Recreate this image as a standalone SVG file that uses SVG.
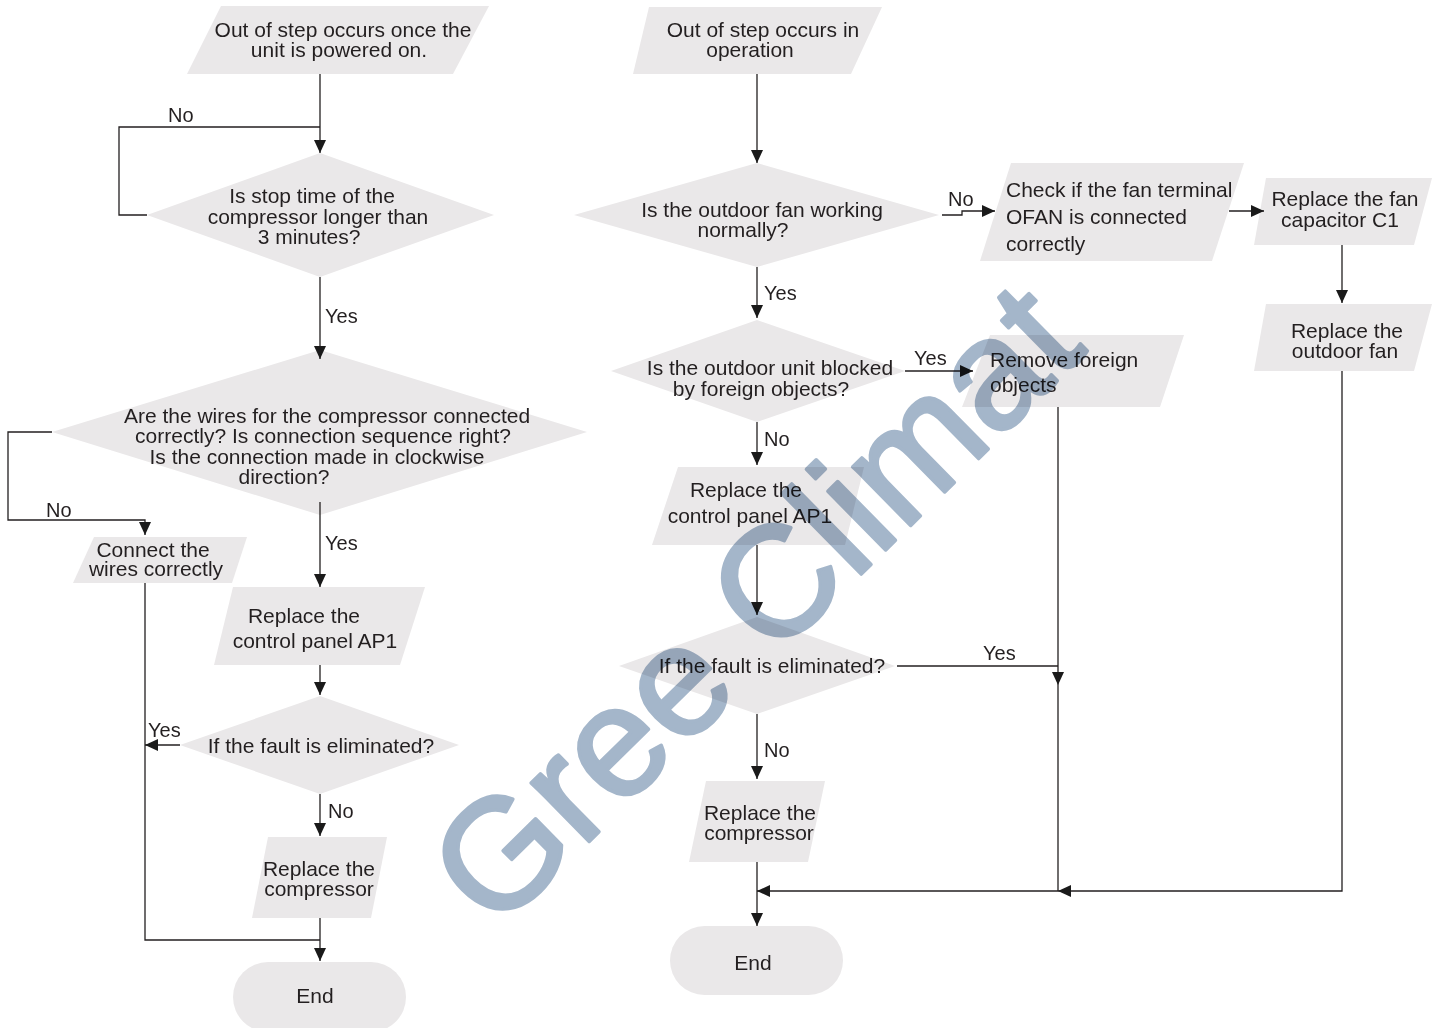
<svg xmlns="http://www.w3.org/2000/svg" width="1435" height="1028" viewBox="0 0 1435 1028">
<style>
  .shape { fill: #eae8e9; stroke: none; }
  .t { font-family: "Liberation Sans", Arial, sans-serif; font-size: 21px; fill: #231f20; }
  .c { text-anchor: middle; }
  .lbl { font-family: "Liberation Sans", Arial, sans-serif; font-size: 20px; fill: #231f20; }
  .ln { fill: none; stroke: #231f20; stroke-width: 1.3; }
  .arr { marker-end: url(#ah); }
  .wm { font-family: "Liberation Sans", Arial, sans-serif; font-size: 156px; fill: #a4b6ca; stroke: #a4b6ca; stroke-width: 3.5; stroke-linejoin: round; mix-blend-mode: multiply; }
</style>
<defs>
  <marker id="ah" viewBox="0 0 13 12" refX="13" refY="6" markerWidth="13" markerHeight="12" markerUnits="userSpaceOnUse" orient="auto">
    <path d="M0,0 L13,6 L0,12 z" fill="#1a1a1a"/>
  </marker>
</defs>
<rect width="1435" height="1028" fill="#ffffff"/>

<!-- Left column nodes -->
<g id="start-left">
  <polygon class="shape" points="221,6 489,6 453,74 187,74"/>
  <text class="t c" x="343" y="37">Out of step occurs once the</text>
  <text class="t c" x="339" y="57">unit is powered on.</text>
</g>
<g id="dec-stop-time">
  <polygon class="shape" points="320,153 494,215 320,277 147,215"/>
  <text class="t c" x="312" y="203">Is stop time of the</text>
  <text class="t c" x="318" y="224">compressor longer than</text>
  <text class="t c" x="309" y="244">3 minutes?</text>
</g>
<g id="dec-wires">
  <polygon class="shape" points="320,350 587,432 320,515 52,432"/>
  <text class="t c" x="327" y="423">Are the wires for the compressor connected</text>
  <text class="t c" x="323" y="443">correctly? Is connection sequence right?</text>
  <text class="t c" x="317" y="464">Is the connection made in clockwise</text>
  <text class="t c" x="284" y="484">direction?</text>
</g>
<g id="connect-wires">
  <polygon class="shape" points="94,537 247,537 232,583 73,583"/>
  <text class="t c" x="153" y="557">Connect the</text>
  <text class="t c" x="156" y="576">wires correctly</text>
</g>
<g id="replace-ap1-left">
  <polygon class="shape" points="233,587 425,587 400,665 214,665"/>
  <text class="t c" x="304" y="623">Replace the</text>
  <text class="t c" x="315" y="648">control panel AP1</text>
</g>
<g id="dec-fault-left">
  <polygon class="shape" points="320,696 459,745 320,794 180,745"/>
  <text class="t c" x="321" y="753">If the fault is eliminated?</text>
</g>
<g id="replace-comp-left">
  <polygon class="shape" points="268,837 387,837 371,918 252,918"/>
  <text class="t c" x="319" y="876">Replace the</text>
  <text class="t c" x="319" y="896">compressor</text>
</g>
<g id="end-left">
  <rect class="shape" x="233" y="962" width="173" height="70" rx="35"/>
  <text class="t c" x="315" y="1003">End</text>
</g>

<!-- Right column nodes -->
<g id="start-right">
  <polygon class="shape" points="649,7 882,7 851,74 633,74"/>
  <text class="t c" x="763" y="37">Out of step occurs in</text>
  <text class="t c" x="750" y="57">operation</text>
</g>
<g id="dec-fan">
  <polygon class="shape" points="757,163 939,215 757,267 574,215"/>
  <text class="t c" x="762" y="217">Is the outdoor fan working</text>
  <text class="t c" x="743" y="237">normally?</text>
</g>
<g id="check-ofan">
  <polygon class="shape" points="1011,163 1244,163 1212,261 980,261"/>
  <text class="t" x="1006" y="197">Check if the fan terminal</text>
  <text class="t" x="1006" y="224">OFAN is connected</text>
  <text class="t" x="1006" y="251">correctly</text>
</g>
<g id="replace-cap">
  <polygon class="shape" points="1266,178 1432,178 1414,245 1254,245"/>
  <text class="t c" x="1345" y="206">Replace the fan</text>
  <text class="t c" x="1340" y="227">capacitor C1</text>
</g>
<g id="replace-fan">
  <polygon class="shape" points="1266,304 1432,304 1414,371 1254,371"/>
  <text class="t c" x="1347" y="338">Replace the</text>
  <text class="t c" x="1345" y="358">outdoor fan</text>
</g>
<g id="dec-blocked">
  <polygon class="shape" points="757,320 905,371 757,422 611,371"/>
  <text class="t c" x="770" y="375">Is the outdoor unit blocked</text>
  <text class="t c" x="761" y="396">by foreign objects?</text>
</g>
<g id="remove-objects">
  <polygon class="shape" points="990,335 1184,335 1160,407 962,407"/>
  <text class="t" x="990" y="367">Remove foreign</text>
  <text class="t" x="990" y="392">objects</text>
</g>
<g id="replace-ap1-right">
  <polygon class="shape" points="678,467 864,467 845,545 652,545"/>
  <text class="t c" x="746" y="497">Replace the</text>
  <text class="t c" x="750" y="523">control panel AP1</text>
</g>
<g id="dec-fault-right">
  <polygon class="shape" points="757,617 895,666 757,714 619,666"/>
  <text class="t c" x="772" y="673">If the fault is eliminated?</text>
</g>
<g id="replace-comp-right">
  <polygon class="shape" points="706,781 825,781 808,862 689,862"/>
  <text class="t c" x="760" y="820">Replace the</text>
  <text class="t c" x="759" y="840">compressor</text>
</g>
<g id="end-right">
  <rect class="shape" x="670" y="926" width="173" height="69" rx="34.5"/>
  <text class="t c" x="753" y="970">End</text>
</g>

<!-- Connectors -->
<g id="connectors">
  <path class="ln arr" d="M320,74 L320,153"/>
  <path class="ln" d="M147,215 L119,215 L119,127 L320,127"/>
  <path class="ln arr" d="M320,277 L320,359"/>
  <path class="ln arr" d="M52,432 L8,432 L8,520 L145,520 L145,535"/>
  <path class="ln arr" d="M320,502 L320,587"/>
  <path class="ln arr" d="M320,665 L320,695"/>
  <path class="ln arr" d="M180,745 L145,745"/>
  <path class="ln arr" d="M320,794 L320,836"/>
  <path class="ln arr" d="M320,918 L320,961"/>
  <path class="ln" d="M145,583 L145,940 L320,940"/>

  <path class="ln arr" d="M757,74 L757,163"/>
  <path class="ln arr" d="M942,215 L962,215 L962,211 L995,211"/>
  <path class="ln arr" d="M1229,211 L1264,211"/>
  <path class="ln arr" d="M1342,245 L1342,303"/>
  <path class="ln arr" d="M757,267 L757,318"/>
  <path class="ln arr" d="M905,371 L973,371"/>
  <path class="ln arr" d="M757,422 L757,465"/>
  <path class="ln arr" d="M757,545 L757,615"/>
  <path class="ln" d="M897,666 L1058,666"/>
  <path class="ln arr" d="M1058,407 L1058,685"/>
  <path class="ln" d="M1058,685 L1058,891"/>
  <path class="ln arr" d="M757,714 L757,779"/>
  <path class="ln arr" d="M757,862 L757,926"/>
  <path class="ln arr" d="M1342,371 L1342,891 L1058,891"/>
  <path class="ln arr" d="M1058,891 L757,891"/>

  <text class="lbl" x="168" y="122">No</text>
  <text class="lbl" x="325" y="323">Yes</text>
  <text class="lbl" x="46" y="517">No</text>
  <text class="lbl" x="325" y="550">Yes</text>
  <text class="lbl" x="148" y="737">Yes</text>
  <text class="lbl" x="328" y="818">No</text>
  <text class="lbl" x="948" y="206">No</text>
  <text class="lbl" x="764" y="300">Yes</text>
  <text class="lbl" x="914" y="365">Yes</text>
  <text class="lbl" x="764" y="446">No</text>
  <text class="lbl" x="983" y="660">Yes</text>
  <text class="lbl" x="764" y="757">No</text>
</g>

<!-- Watermark -->
<g id="watermark">
  <text class="wm" transform="translate(495,934) rotate(-44.5)" x="0" y="0">Gree Climat</text>
</g>
</svg>
